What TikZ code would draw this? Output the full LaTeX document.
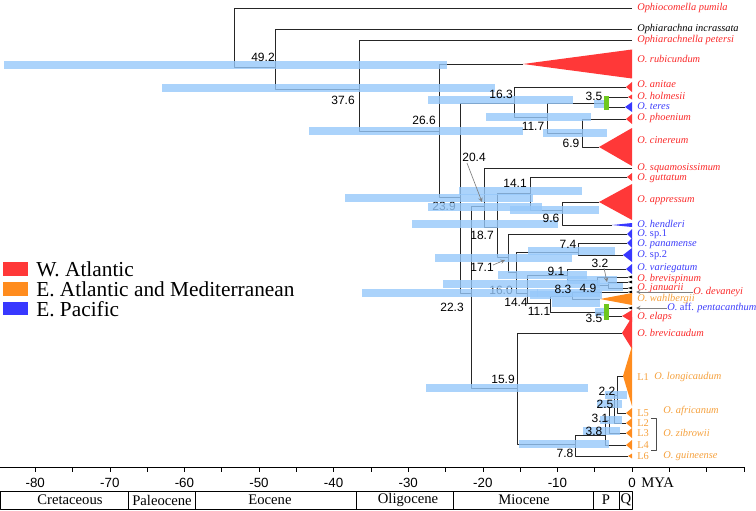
\documentclass[tikz,border=0pt]{standalone}
\usepackage{fontspec}
\setmainfont{Liberation Serif}
\newfontfamily\numfont{Liberation Sans}
\definecolor{watl}{RGB}{255,56,56}
\definecolor{eatl}{RGB}{255,140,30}
\definecolor{epac}{RGB}{56,56,255}
\definecolor{watltext}{RGB}{250,40,40}
\definecolor{eatltext}{RGB}{245,160,60}
\definecolor{epactext}{RGB}{60,60,250}
\definecolor{hpd}{RGB}{150,200,250}
\definecolor{shiftgreen}{RGB}{110,200,30}
\tikzset{
  branch/.style={line width=0.6pt,black!85},
  hpdbar/.style={fill=hpd,opacity=0.8},
  age/.style={font=\numfont\fontsize{9}{10}\selectfont,inner sep=0pt},
  taxon/.style={font=\fontsize{7.8}{9}\selectfont\itshape,anchor=west,inner sep=0pt},
  lineage/.style={font=\fontsize{7.8}{9}\selectfont,anchor=west,inner sep=0pt,text=eatltext},
  pointer/.style={->,>=stealth,gray,line width=0.5pt},
  legendtext/.style={font=\fontsize{16}{18}\selectfont,anchor=west,inner sep=0pt},
  epochtext/.style={font=\fontsize{11}{12}\selectfont,inner sep=0pt},
  axnum/.style={font=\numfont\fontsize{10}{11}\selectfont,inner sep=0pt},
}
\begin{document}
\begin{tikzpicture}[x=0.75pt,y=-0.75pt,line join=round]
\useasboundingbox (0,0) rectangle (756,510);
\path
 (234,37) coordinate (A)
 (275,67) coordinate (B)
 (359,89) coordinate (C)
 (439,131) coordinate (D)
 (460,197) coordinate (E)
 (514,103) coordinate (F16)
 (547,117) coordinate (F11)
 (607,103) coordinate (F35)
 (582,133) coordinate (F69)
 (471,293) coordinate (G)
 (484,206) coordinate (H)
 (497,227) coordinate (I)
 (530,193) coordinate (K14)
 (562,210) coordinate (K96)
 (508,257) coordinate (J)
 (516,272) coordinate (L)
 (578,252) coordinate (N74)
 (527,293) coordinate (M)
 (567,275) coordinate (N91)
 (597,280) coordinate (P)
 (608,285) coordinate (Q)
 (550,303) coordinate (O)
 (572,296) coordinate (R)
 (607,312) coordinate (S)
 (517,388) coordinate (T)
 (575,444) coordinate (U)
 (605,435) coordinate (V38)
 (609,420) coordinate (V31)
 (614,407) coordinate (V25)
 (617,395) coordinate (V22)
 (632,8) coordinate (pum)
 (632,29) coordinate (inc)
 (632,40) coordinate (pet)
 (632,168) coordinate (squ)
 (467,163) coordinate (p204)
 (482,202) coordinate (q204)
 (493,265) coordinate (p171)
 (505,260) coordinate (q171)
 (604,268) coordinate (p32)
 (607,282) coordinate (q32)
;
% ages under the bars
\node[age] (a239) at (444,206) {23.9};
\node[age] (a160) at (501,290) {16.0};
% tips
\foreach \n/\x/\y/\h/\c in {rub/523/64/14.5/watl, ani/626/87/5/watl, hol/628/97/2.5/watl,
  ter/625/107/5/epac, pho/626/119/5/watl, cin/599/147/19/watl, gut/627/177/4/watl,
  app/599/202/18/watl, hen/612/225/2/epac, sp1/627/234/5/epac, pan/627/243/5/epac,
  sp2/623/255/7/epac, var/626/269/5/epac, bre/628/277/1.5/black, brb/628/282/1.5/black,
  jan/628/288/1.5/black, dev/628/292/1.5/black, wah/600/299/6/eatl, pen/628/308/1.5/black,
  ela/622/316/6/watl, brc/622/333/16/watl, L1/623/376/30/eatl, L5/626/413/5/eatl,
  L2/626/423/5/eatl, L3/626/433/5/eatl, L4/626/445/5/eatl, L6/628/456/2.5/eatl}
  {\coordinate (\n) at (\x,\y);
   \fill[\c] (\n) -- (632,\y-\h) -- (632,\y+\h) -- cycle;}
% tree
\draw[branch] (pum) -- (pum -| A) -- (B -| A) -- (B);
\foreach \p/\a/\b in {B/inc/C, C/pet/D, D/rub/E, E/F16/G, F16/ani/F11, F11/F35/F69,
  F35/hol/ter, F69/pho/cin, G/H/T, H/squ/I, I/K14/J, K14/gut/K96, K96/app/hen,
  J/sp1/L, L/N74/M, N74/pan/sp2, M/N91/O, N91/var/P, P/bre/Q, Q/brb/jan, O/R/S,
  R/dev/wah, S/pen/ela, T/brc/U, U/V38/L6, V38/V31/L4, V31/V25/L3, V25/V22/L2, V22/L1/L5}
  \draw[branch] (\a) -- (\a -| \p) -- (\b -| \p) -- (\b);
% HPD bars
\foreach \y/\xa/\xb in {65/4/447, 88/162/495, 131/309/523, 198/345/533, 100/428/573,
  117/486/591, 104/594/605, 133/543/607, 293/362/538, 207/428/542, 224/412/558,
  191/459/582, 210/510/599, 258/435/572, 284/443/600, 251/528/615, 293/537/600,
  275/498/587, 280/567/617, 287/595/623, 303/552/600, 295/530/602, 312/595/608,
  388/426/588, 444/519/609, 431/583/620, 420/600/622, 404/597/622, 395/605/627}
  \fill[hpdbar] (\xa,\y-4) rectangle (\xb,\y+4);
\fill[shiftgreen] (604,96) rectangle (609,110);
\fill[shiftgreen] (604,304) rectangle (609,320);
% ages
\node[age] (a492) at (263,57) {49.2};
\node[age] (a376) at (343,100) {37.6};
\node[age] (a266) at (424,120) {26.6};
\node[age] (a163) at (501,94) {16.3};
\node[age] (a35u) at (594,96) {3.5};
\node[age] (a117) at (533,126) {11.7};
\node[age] (a69) at (571,143) {6.9};
\node[age] (a204) at (474,157) {20.4};
\node[age] (a141) at (515,183) {14.1};
\node[age] (a96) at (551,218) {9.6};
\node[age] (a187) at (482,235) {18.7};
\node[age] (a74) at (568,244) {7.4};
\node[age] (a171) at (482,267) {17.1};
\node[age] (a91) at (556,271) {9.1};
\node[age] (a32) at (600,263) {3.2};
\node[age] (a49) at (588,288) {4.9};
\node[age] (a83) at (563,289) {8.3};
\node[age] (a144) at (516,302) {14.4};
\node[age] (a111) at (539,311) {11.1};
\node[age] (a35l) at (594,318) {3.5};
\node[age] (a223) at (452,307) {22.3};
\node[age] (a159) at (503,379) {15.9};
\node[age] (a22) at (607,391) {2.2};
\node[age] (a25) at (605,404) {2.5};
\node[age] (a31) at (600,418) {3.1};
\node[age] (a38) at (594,431) {3.8};
\node[age] (a78) at (565,453) {7.8};
\draw[pointer] (p204) -- (q204);
\draw[pointer] (p171) -- (q171);
\draw[pointer] (p32) -- (q32);
% taxa
\foreach \n/\y/\c/\t in {pum/8/watltext/Ophiocomella pumila, inc/29/black/Ophiarachna incrassata,
  pet/40/watltext/Ophiarachnella petersi, rub/59/watltext/O. rubicundum, ani/84/watltext/O. anitae,
  hol/96/watltext/O. holmesii, ter/106/epactext/O. teres, pho/118/watltext/O. phoenium,
  cin/140/watltext/O. cinereum, squ/168/watltext/O. squamosissimum, gut/178/watltext/O. guttatum,
  app/200/watltext/O. appressum, hen/224/epactext/O. hendleri, pan/244/epactext/O. panamense,
  var/268/epactext/O. variegatum, bre/279/watltext/O. brevispinum, jan/288/watltext/O. januarii,
  wah/299/eatltext/O. wahlbergii, ela/317/watltext/O. elaps, brc/333/watltext/O. brevicaudum}
  \node[taxon,text=\c] (t\n) at (637,\y) {\t};
\node[taxon,text=epactext] (tsp1) at (637,234) {O. \upshape sp.1};
\node[taxon,text=epactext] (tsp2) at (637,255) {O. \upshape sp.2};
\node[taxon,text=watltext] (tdev) at (693,292) {O. devaneyi};
\node[taxon,text=epactext] (tpen) at (667,308) {O. {\upshape aff.} pentacanthum};
\draw[pointer] (tdev.west) -- ([xshift=3]dev -| pum);
\draw[pointer] (tpen.west) -- ([xshift=3]pen -| pum);
\foreach \n/\y in {L1/377, L5/413, L2/423, L3/433, L4/445, L6/456}
  \node[lineage] (t\n) at (637,\y) {\n};
\node[taxon,text=eatltext] (tlon) at (654,377) {O. longicaudum};
\node[taxon,text=eatltext] (tafr) at (663,411) {O. africanum};
\node[taxon,text=eatltext] (tzib) at (663,433) {O. zibrowii};
\node[taxon,text=eatltext] (tgui) at (663,456) {O. guineense};
\draw[black!70] (651,418) -- (656,418) -- (656,450) -- (651,450);
% legend
\fill[watl] (3,262) rectangle (28,276);
\fill[eatl] (3,282) rectangle (28,296);
\fill[epac] (3,302) rectangle (28,315);
\node[legendtext] (lw) at (36,269) {W. Atlantic};
\node[legendtext] (le) at (36,289) {E. Atlantic and Mediterranean};
\node[legendtext] (lp) at (36,309) {E. Pacific};
% time axis
\draw (0,467) -- (744,467);
\foreach \t in {-85,-80,...,15}
  \draw (632+\t*7.46,467) -- (632+\t*7.46,472);
\foreach \t in {-80,-70,...,0}
  \node[axnum] at (632+\t*7.46,483) {\t};
\node[epochtext,anchor=west] (mya) at (641,483) {MYA};
\draw (0,491) rectangle (632,509);
\foreach \x in {128,195,356,453,593,619}
  \draw (\x,491) -- (\x,509);
\foreach \x/\e in {70/Cretaceous, 162/Paleocene, 270/Eocene, 408/Oligocene, 524/Miocene, 606/P, 626/Q}
  \node[epochtext] at (\x,500) {\e};
\end{tikzpicture}
\end{document}
